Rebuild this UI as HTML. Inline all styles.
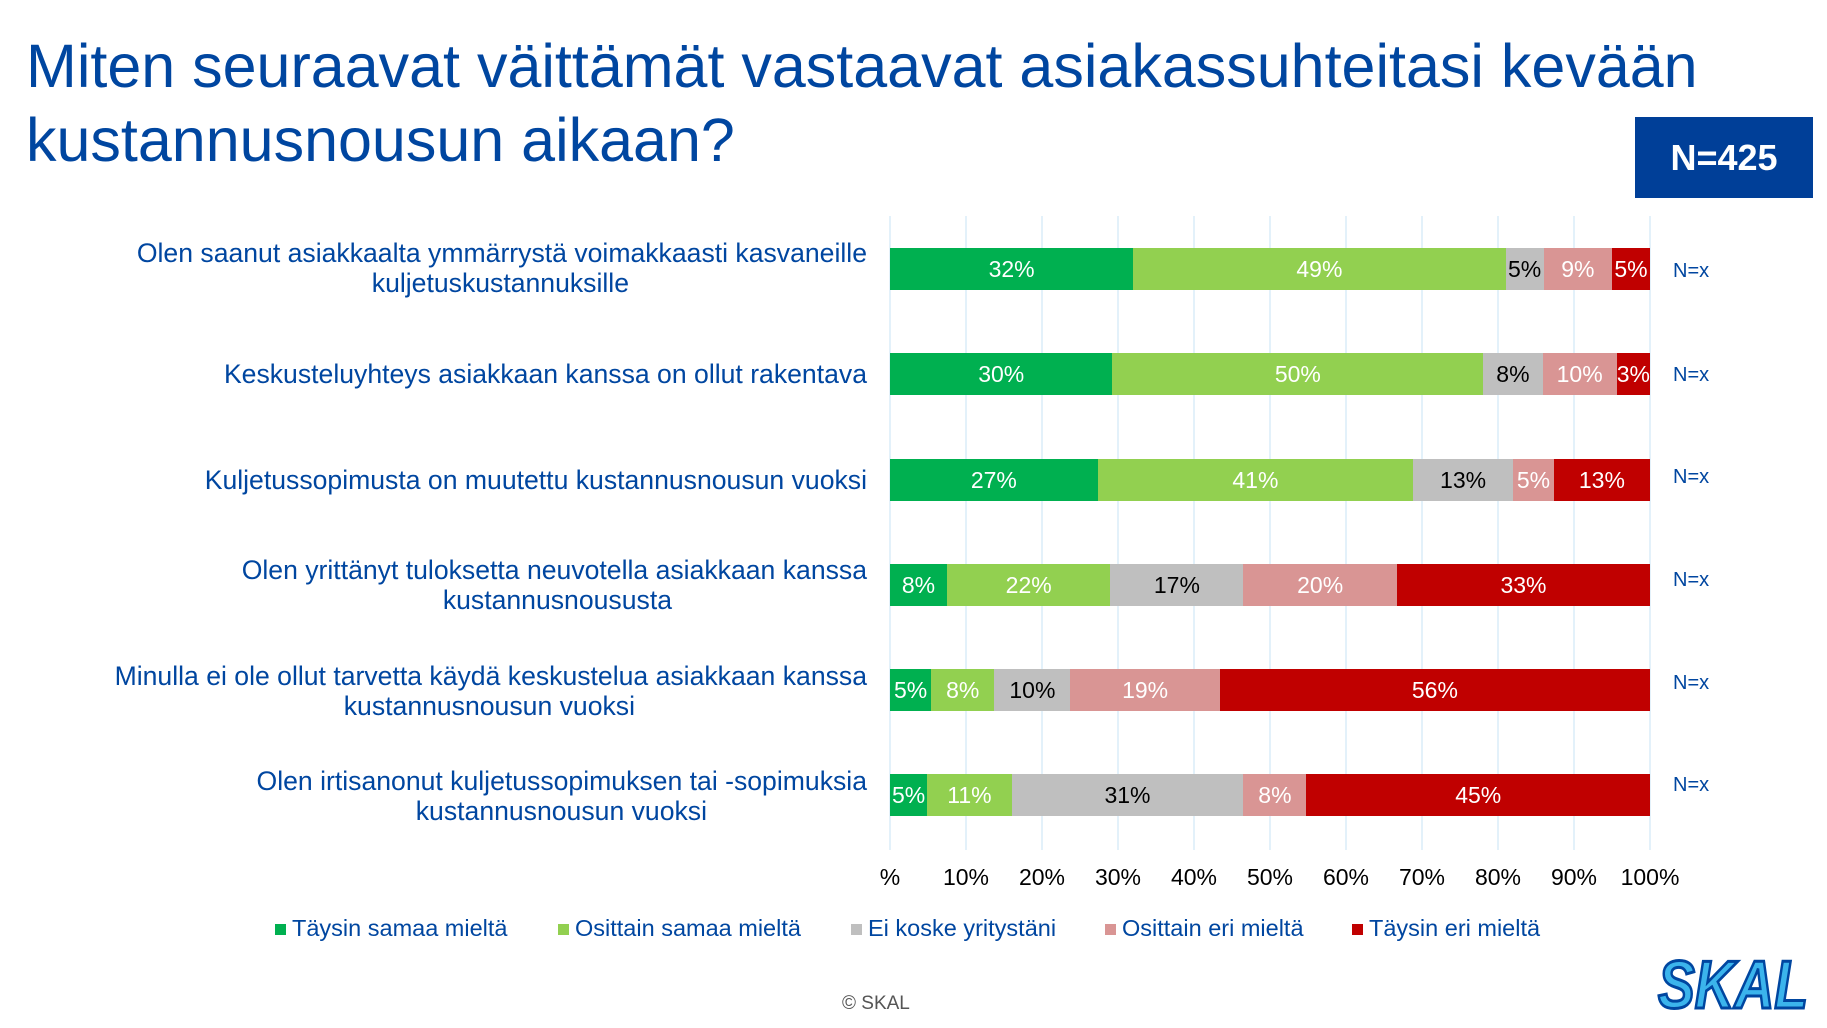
<!DOCTYPE html>
<html><head><meta charset="utf-8"><style>
*{margin:0;padding:0;box-sizing:border-box}
body{width:1827px;height:1028px;background:#fff;position:relative;overflow:hidden;font-family:"Liberation Sans",sans-serif}
.t{position:absolute;left:26px;color:#0046A0;font-size:61px;line-height:72px;white-space:nowrap}
.nbox{position:absolute;left:1635px;top:117px;width:178px;height:81px;background:#003F98;color:#fff;font-weight:bold;font-size:36px;text-align:center;line-height:81px}
.grid{position:absolute;top:216px;height:634px;width:2px;background:#E3F1FA}
.lbl{position:absolute;right:960px;text-align:right;color:#0046A0;font-size:26.6px;line-height:30px;white-space:nowrap}
.bar{position:absolute;left:890px;width:760px;height:42px;display:flex}
.bar div{height:42px;color:#fff;font-size:23px;line-height:42px;text-align:center;white-space:nowrap;overflow:visible}
.g{background:#00B050}.lg{background:#92D050}.gr{background:#BFBFBF;color:#000!important}.p{background:#D99594}.r{background:#C00000}
.nx{position:absolute;left:1673px;color:#0046A0;font-size:20px}
.tick{position:absolute;top:864px;width:80px;margin-left:-40px;text-align:center;font-size:23px;color:#000}
.leg{position:absolute;top:915px;font-size:23.5px;color:#0046A0;white-space:nowrap}
.leg i{display:inline-block;width:11px;height:11px;margin-right:6px;vertical-align:1px}
</style></head><body>
<div class="t" style="top:30px">Miten seuraavat väittämät vastaavat asiakassuhteitasi kevään</div>
<div class="t" style="top:104px">kustannusnousun aikaan?</div>
<div class="nbox">N=425</div>

<div class="grid" style="left:889px"></div><div class="grid" style="left:965px"></div><div class="grid" style="left:1041px"></div><div class="grid" style="left:1117px"></div><div class="grid" style="left:1193px"></div><div class="grid" style="left:1269px"></div><div class="grid" style="left:1345px"></div><div class="grid" style="left:1421px"></div><div class="grid" style="left:1497px"></div><div class="grid" style="left:1573px"></div><div class="grid" style="left:1649px"></div>

<div class="lbl" style="top:238px">Olen saanut asiakkaalta ymmärrystä voimakkaasti kasvaneille<br><span style="margin-right:238px">kuljetuskustannuksille</span></div>
<div class="lbl" style="top:359px">Keskusteluyhteys asiakkaan kanssa on ollut rakentava</div>
<div class="lbl" style="top:465px">Kuljetussopimusta on muutettu kustannusnousun vuoksi</div>
<div class="lbl" style="top:555px">Olen yrittänyt tuloksetta neuvotella asiakkaan kanssa<br><span style="margin-right:195px">kustannusnoususta</span></div>
<div class="lbl" style="top:661px">Minulla ei ole ollut tarvetta käydä keskustelua asiakkaan kanssa<br><span style="margin-right:232px">kustannusnousun vuoksi</span></div>
<div class="lbl" style="top:766px">Olen irtisanonut kuljetussopimuksen tai -sopimuksia<br><span style="margin-right:160px">kustannusnousun vuoksi</span></div>

<div class="bar" style="top:248px"><div class="g" style="flex:32">32%</div><div class="lg" style="flex:49">49%</div><div class="gr" style="flex:5">5%</div><div class="p" style="flex:9">9%</div><div class="r" style="flex:5">5%</div></div>
<div class="bar" style="top:353px"><div class="g" style="flex:30">30%</div><div class="lg" style="flex:50">50%</div><div class="gr" style="flex:8">8%</div><div class="p" style="flex:10">10%</div><div class="r" style="flex:2.5">3%</div></div>
<div class="bar" style="top:459px"><div class="g" style="flex:27">27%</div><div class="lg" style="flex:41">41%</div><div class="gr" style="flex:13">13%</div><div class="p" style="flex:5.3">5%</div><div class="r" style="flex:12.5">13%</div></div>
<div class="bar" style="top:564px"><div class="g" style="flex:7.5">8%</div><div class="lg" style="flex:21.5">22%</div><div class="gr" style="flex:17.5">17%</div><div class="p" style="flex:20.2">20%</div><div class="r" style="flex:33.3">33%</div></div>
<div class="bar" style="top:669px"><div class="g" style="flex:5.4">5%</div><div class="lg" style="flex:8.3">8%</div><div class="gr" style="flex:10">10%</div><div class="p" style="flex:19.6">19%</div><div class="r" style="flex:56.5">56%</div></div>
<div class="bar" style="top:774px"><div class="g" style="flex:4.9">5%</div><div class="lg" style="flex:11.1">11%</div><div class="gr" style="flex:30.5">31%</div><div class="p" style="flex:8.3">8%</div><div class="r" style="flex:45.2">45%</div></div>

<div class="nx" style="top:260px">N=x</div><div class="nx" style="top:364px">N=x</div><div class="nx" style="top:466px">N=x</div><div class="nx" style="top:569px">N=x</div><div class="nx" style="top:672px">N=x</div><div class="nx" style="top:774px">N=x</div>

<div class="tick" style="left:890px">%</div><div class="tick" style="left:966px">10%</div><div class="tick" style="left:1042px">20%</div><div class="tick" style="left:1118px">30%</div><div class="tick" style="left:1194px">40%</div><div class="tick" style="left:1270px">50%</div><div class="tick" style="left:1346px">60%</div><div class="tick" style="left:1422px">70%</div><div class="tick" style="left:1498px">80%</div><div class="tick" style="left:1574px">90%</div><div class="tick" style="left:1650px">100%</div>

<div class="leg" style="left:275px"><i style="background:#00B050"></i>Täysin samaa mieltä</div>
<div class="leg" style="left:558px"><i style="background:#92D050"></i>Osittain samaa mieltä</div>
<div class="leg" style="left:851px"><i style="background:#BFBFBF"></i>Ei koske yritystäni</div>
<div class="leg" style="left:1105px"><i style="background:#D99594"></i>Osittain eri mieltä</div>
<div class="leg" style="left:1352px"><i style="background:#C00000"></i>Täysin eri mieltä</div>

<div style="position:absolute;left:842px;top:993px;font-size:19px;color:#555">© SKAL</div>
<svg style="position:absolute;left:1652px;top:940px" width="170" height="80"><text x="6" y="68" font-family="Liberation Sans" font-weight="bold" font-style="italic" font-size="68" fill="#3BB4EC" stroke="#0046A0" stroke-width="3" textLength="150" lengthAdjust="spacingAndGlyphs">SKAL</text></svg>
</body></html>
